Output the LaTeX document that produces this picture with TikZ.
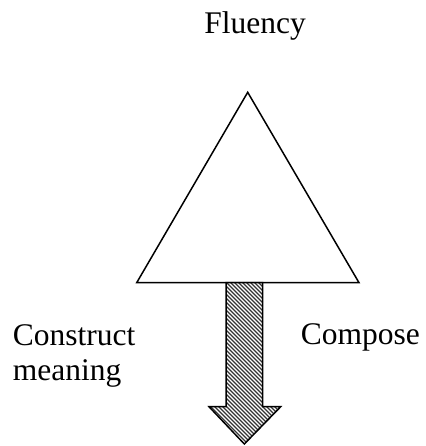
\documentclass[tikz,border=0pt]{standalone}
\usepackage{fontspec}
\setmainfont{Liberation Serif}
\begin{document}
\begin{tikzpicture}[x=1pt,y=-1pt,
  lbl/.style={inner sep=0pt,font=\fontsize{31.5}{35.7}\selectfont},
  outline/.style={draw=black,line width=1.5pt,line join=miter},
  hatchline/.style={draw=black!80,line width=1.1pt}]
\useasboundingbox (0,0) rectangle (425,446);
\coordinate (apex) at (247.7,92.3);
\coordinate (bl) at (136.7,282.7);
\coordinate (br) at (359,282.7);
\draw[outline] (apex) -- (bl) -- (br) -- cycle;
\coordinate (stl) at (226,282.7);
\coordinate (str) at (262.7,282.7);
\coordinate (hbl) at (226,406.7);
\coordinate (hbr) at (262.7,406.7);
\coordinate (hl) at (209,406.7);
\coordinate (hr) at (280.7,406.7);
\coordinate (tip) at (244.35,444);
\fill[white] (stl) -- (str) -- (hbr) -- (hr) -- (tip) -- (hl) -- (hbl) -- cycle;
\begin{scope}
  \clip (stl) -- (str) -- (hbr) -- (hr) -- (tip) -- (hl) -- (hbl) -- cycle;
  \foreach \c in {40,44,...,290} {
    \draw[hatchline] (\c,280) -- (\c+170,450);
  }
\end{scope}
\draw[outline] (stl) -- (str) -- (hbr) -- (hr) -- (tip) -- (hl) -- (hbl) -- cycle;
\node[lbl,anchor=base] (fluency) at (255,33.3) {Fluency};
\node[lbl,anchor=base west,align=left] (construct) at (12.7,380.7) {Construct\\meaning};
\node[lbl,anchor=base west] (compose) at (300.7,344) {Compose};
\end{tikzpicture}
\end{document}
